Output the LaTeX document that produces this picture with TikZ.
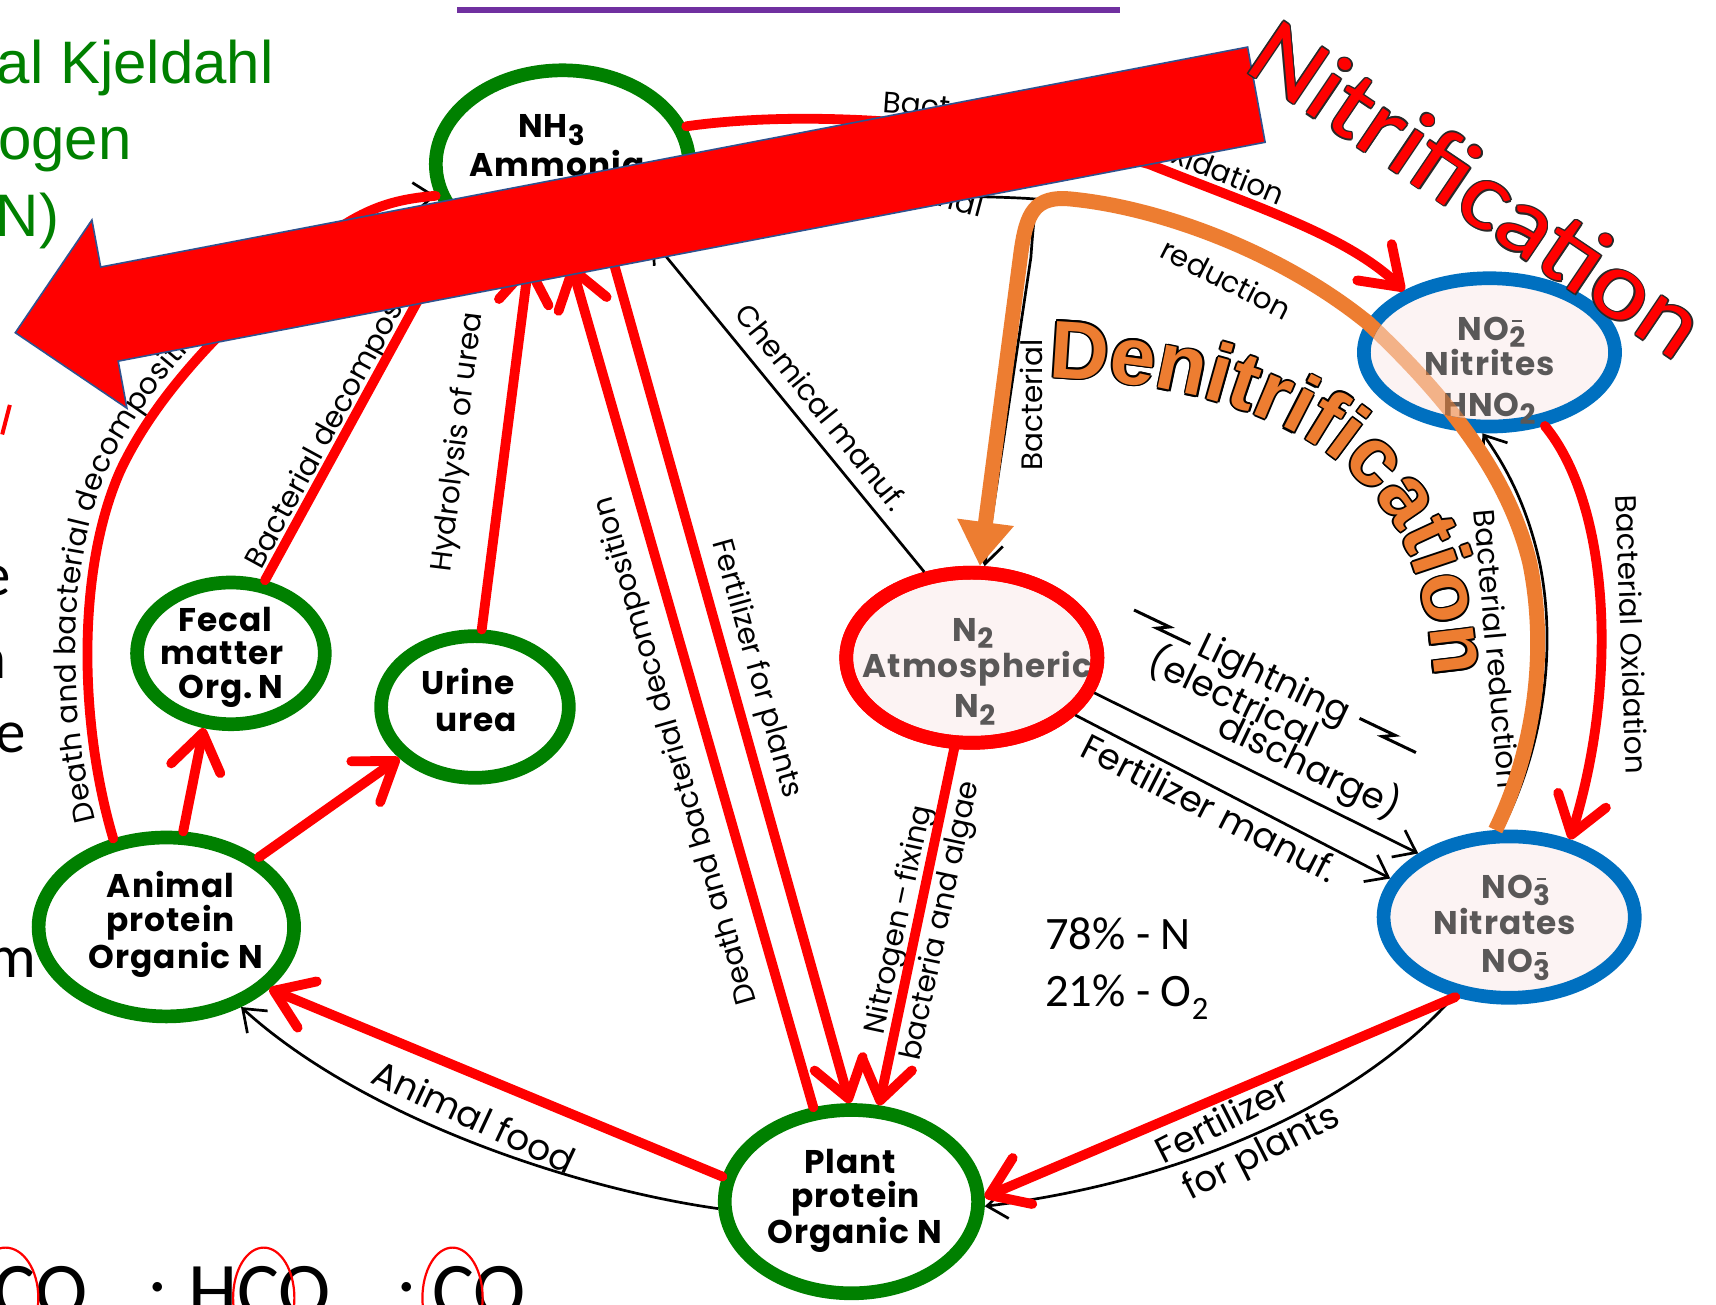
\documentclass[tikz,border=0pt]{standalone}
\usepackage{fontspec}
\setmainfont{Poppins}
\newfontfamily\nodefont[LetterSpace=3]{Poppins}
\newfontfamily\calibri{Carlito}
\newfontfamily\arialf{Liberation Sans}
\usetikzlibrary{shapes.geometric, arrows.meta, decorations.text}
\definecolor{ringgreen}{RGB}{0,128,0}
\definecolor{ringblue}{RGB}{0,112,192}
\definecolor{pinkfill}{RGB}{252,243,243}
\definecolor{txtgray}{RGB}{90,88,88}
\definecolor{orng}{RGB}{237,125,49}
\definecolor{arrowblue}{RGB}{47,82,143}
\definecolor{purp}{RGB}{112,48,160}
\definecolor{tkngreen}{RGB}{0,128,0}
\definecolor{nitout}{RGB}{40,40,40}
\newcommand\fsz[2]{\fontsize{#1pt}{#2pt}\selectfont}
\newcommand\lblf{\fsz{29.5}{32}}
\newcommand\denf{\arialf\bfseries\fsz{82}{90}}
\newcommand\nitf{\calibri\fsz{109}{120}}
\newcommand\lo[1]{\raisebox{-0.22em}{\scalebox{0.85}{#1}}}
\newcommand\ionlo[1]{\raisebox{-0.22em}{\ooalign{\scalebox{0.85}{#1}\cr\hidewidth\raisebox{0.78em}{\rule{0.3em}{0.07em}}\hidewidth\cr}}}
\tikzset{
 ring/.style={ellipse, line width=13.7pt, inner sep=0pt, fill=white},
 ntxt/.style={font=\nodefont\bfseries\fsz{32.8}{36}, anchor=base, inner sep=0pt},
 gtxt/.style={ntxt, text=txtgray},
 lbl/.style={font=\lblf, anchor=base, inner sep=0pt},
 lblbig/.style={font=\fsz{36}{39}, anchor=base, inner sep=0pt},
 bk/.style={draw=black, line width=2.7pt},
 bkarrow/.style={bk, -{Straight Barb[length=20pt, width=30pt]}},
 rdline/.style={draw=red, line width=9.8pt, line cap=round},
 rdarrow/.style={rdline, -{Straight Barb[length=36pt, width=50pt, round]}},
 orangeline/.style={draw=orng, line width=15pt, -{Triangle[length=44pt, width=54pt]}},
 tkn/.style={font=\arialf\fsz{60}{66}, text=tkngreen, inner sep=0pt, anchor=base west},
 frag/.style={font=\calibri\fsz{61}{66}, inner sep=0pt, anchor=base east},
 pct/.style={font=\calibri\fsz{46.5}{50}, inner sep=0pt, anchor=base west},
 frm/.style={font=\calibri\fsz{78.8}{85}, inner sep=0pt, anchor=base west},
}
\begin{document}
\begin{tikzpicture}[x=1.0944pt, y=-1.0944pt]
\useasboundingbox (0,0) rectangle (1568,1192);
\clip (0,0) rectangle (1568,1192);
\fill[white] (0,0) rectangle (1568,1192);

% ---------- nodes ----------
\node[ring, draw=ringgreen, minimum width=253.4pt, minimum height=187.7pt] (nh3) at (514,150) {};
\node[ring, draw=ringgreen, minimum width=187.7pt, minimum height=141.7pt] (fecal) at (211,597) {};
\node[ring, draw=ringgreen, minimum width=187.7pt, minimum height=141.7pt] (urine) at (434,646) {};
\node[ring, draw=ringgreen, minimum width=255.5pt, minimum height=178.9pt] (animal) at (152,847) {};
\node[ring, draw=ringgreen, minimum width=253.4pt, minimum height=183.3pt] (plant) at (778,1098) {};
\node[ring, draw=red, fill=pinkfill, minimum width=251.2pt, minimum height=170.2pt] (ntwo) at (888,601) {};
\node[ring, draw=ringblue, fill=pinkfill, minimum width=251.2pt, minimum height=148.3pt] (nitrite) at (1361,322) {};
\node[ring, draw=ringblue, fill=pinkfill, minimum width=251.2pt, minimum height=161.4pt] (nitrate) at (1379,838) {};

\node[ntxt] (nh3a) at (504,126) {NH\lo{3}};
\node[ntxt] (nh3b) at (509,161) {Ammonia};
\node[ntxt] (feca) at (206,577) {Fecal};
\node[ntxt] (fecb) at (203,607) {matter};
\node[ntxt] (fecc) at (211,638) {Org.\,N};
\node[ntxt] (urna) at (428,635) {Urine};
\node[ntxt] (urnb) at (435,668) {urea};
\node[ntxt] (ania) at (156,820) {Animal};
\node[ntxt] (anib) at (156,851) {protein};
\node[ntxt] (anic) at (161,885) {Organic N};
\node[ntxt] (plta) at (777,1072) {Plant};
\node[ntxt] (pltb) at (782,1103) {protein};
\node[ntxt] (pltc) at (781,1136) {Organic N};
\node[gtxt] (n2a) at (889,586) {N\lo{2}};
\node[gtxt] (n2b) at (893,619) {Atmospheric};
\node[gtxt] (n2c) at (891,656) {N\lo{2}};
\draw[red, line width=13.7pt] (ntwo.center) ellipse [x radius=114.75, y radius=77.75];
\node[gtxt] (no2a) at (1363,311) {NO\ionlo{2}};
\node[gtxt] (no2b) at (1361,343) {Nitrites};
\node[gtxt] (no2c) at (1361,381) {HNO\lo{2}};
\node[gtxt] (no3a) at (1385,821) {NO\ionlo{3}};
\node[gtxt] (no3b) at (1375,854) {Nitrates};
\node[gtxt] (no3c) at (1385,889) {NO\ionlo{3}};

% ---------- black connectors ----------
\coordinate (jn) at (948,182);
\draw[bkarrow] (animal.121) .. controls (72,660) and (70,520) .. (110,430) .. controls (150,345) and (230,275) .. (300,215) .. controls (335,190) and (360,182) .. (nh3.194);
\draw[bkarrow] (fecal.65) -- (nh3.211);
\draw[bkarrow] (urine.85) -- (nh3.251);
\draw[bkarrow] (plant.112) -- (nh3.275);
\draw[bkarrow] (nh3.298) -- (plant.91);
\draw[bkarrow] (ntwo.259) -- (plant.74);
\draw[bkarrow] (ntwo.119) -- (nh3.320);
\draw[bkarrow] (ntwo.-16) -- (nitrate.145);
\draw[bkarrow] (ntwo.-29) -- (nitrate.162);
\draw[bkarrow] (nitrate.235) .. controls (1240,1010) and (1080,1080) .. (plant.-2);
\draw[bkarrow] (plant.183) .. controls (520,1085) and (330,1020) .. (animal.-47);
\draw[bkarrow] (animal.80) -- (fecal.250);
\draw[bkarrow] (animal.37) -- (urine.214);
\draw[bkarrow] (nh3.17) .. controls (750,98) and (920,115) .. (1050,150) .. controls (1150,190) and (1230,215) .. (nitrite.144);
\draw[bkarrow] (nitrite.-53) .. controls (1470,460) and (1480,620) .. (nitrate.52);
\draw[bkarrow] (nitrate.95) .. controls (1412,680) and (1422,590) .. (1407,515) .. controls (1395,460) and (1375,425) .. (nitrite.-95);
\draw[bkarrow] (nitrite.165) .. controls (1170,232) and (1060,192) .. (jn) .. controls (900,178) and (800,180) .. (nh3.-12);
\draw[bkarrow] (jn) .. controls (946,190) and (944,205) .. (942,235) -- (ntwo.82);

% lightning bolts
\begin{scope}[shift={(1062,573)}, rotate=-25.5]
\draw[line width=3pt, line join=miter] (-30,-3) -- (6,-3) -- (-4,3) -- (30,3);
\end{scope}
\begin{scope}[shift={(1268,672)}, rotate=-25.5]
\draw[line width=3pt, line join=miter] (-30,-3) -- (6,-3) -- (-4,3) -- (30,3);
\end{scope}

% ---------- labels ----------
\path[decorate, decoration={text along path, text={|\lblf|Death and bacterial decomposition}, text align={left indent=22pt}, raise=12pt}] (animal.121) .. controls (72,660) and (70,520) .. (110,430) .. controls (150,345) and (230,275) .. (300,215) .. controls (335,190) and (360,182) .. (nh3.194);
\path[decorate, decoration={text along path, text={|\lblf|Bacterial}, text align={left indent=196pt}, raise=9pt}] (nh3.17) .. controls (750,98) and (920,115) .. (1050,150) .. controls (1150,190) and (1230,215) .. (nitrite.144);
\path[decorate, decoration={text along path, text={|\lblf|oxidation}, text align={right, right indent=150pt}, raise=9pt}] (nh3.17) .. controls (750,98) and (920,115) .. (1050,150) .. controls (1150,190) and (1230,215) .. (nitrite.144);
\node[lbl, rotate=61.4, anchor=base west] (lbfec) at (239,521) {Bacterial decomposition};
\node[lbl, rotate=83] (lbhyd) at (426,405) {Hydrolysis of urea};
\node[lbl, rotate=106] (lbdth) at (625,684) {Death and bacterial decomposition};
\node[lbl, rotate=-74.4] (lbfpl) at (684,613) {Fertilizer for plants};
\node[lbl, rotate=78] (lbnf1) at (829,842) {Nitrogen\,–\,fixing};
\node[lbl, rotate=78] (lbnf2) at (867,843) {bacteria and algae};
\node[lbl, rotate=-51.3] (lbchem) at (743,378) {Chemical manuf.};
\node[lbl, rotate=-15] (lbbr1) at (838,183) {Bacterial};
\node[lbl, rotate=-27] (lbbr2) at (1116,264) {reduction};
\node[lbl, rotate=90] (lbbr3) at (953,370) {Bacterial};
\node[lbl, rotate=-85] (lbbr4) at (1358,594) {Bacterial reduction};
\node[lbl, rotate=-88] (lbbo) at (1481,580) {Bacterial Oxidation};
\node[lblbig, rotate=-25.5] (lbli1) at (1160,630) {Lightning};
\node[lblbig, rotate=-25.5] (lbli2) at (1122,648) {(electrical};
\node[lblbig, rotate=-25.5] (lbli3) at (1192,710) {discharge)};
\node[lblbig, rotate=-27] (lbfm) at (1100,749) {Fertilizer manuf.};
\node[lblbig, rotate=27] (lbfp1) at (1122,1034) {Fertilizer};
\node[lblbig, rotate=27] (lbfp2) at (1157,1062) {for plants};
\node[lblbig, rotate=-25] (lbaf) at (428,1031) {Animal food};

% ---------- red overlays ----------
\draw[rdline] (animal.121) .. controls (72,660) and (70,520) .. (110,430) .. controls (150,345) and (230,275) .. (300,215) .. controls (335,190) and (360,182) .. (nh3.194);
\draw[rdarrow] (fecal.65) -- (nh3.211);
\draw[rdarrow] (urine.85) -- (nh3.251);
\draw[rdarrow] (plant.112) -- (nh3.275);
\draw[rdarrow] (nh3.298) -- (plant.91);
\draw[rdarrow] (ntwo.259) -- (plant.74);
\draw[rdarrow] (nh3.17) .. controls (750,98) and (920,115) .. (1050,150) .. controls (1150,190) and (1230,215) .. (nitrite.144);
\draw[rdarrow] (nitrite.-53) .. controls (1470,460) and (1480,620) .. (nitrate.52);
\draw[rdarrow] (nitrate.236) -- (plant.2);
\draw[rdarrow] (plant.169) -- (animal.-31);
\draw[rdarrow] (animal.80) -- (fecal.250);
\draw[rdarrow] (animal.37) -- (urine.214);

% ---------- orange denitrification path ----------
\begin{scope}[even odd rule]
\clip (0,0) rectangle (1568,1192) (nitrite.center) ellipse [x radius=108.5, y radius=61.5];
\draw[orangeline] (nitrate.99) .. controls (1400,690) and (1415,600) .. (1398,515) .. controls (1380,440) and (1330,370) .. (1250,295) .. controls (1170,230) and (1060,190) .. (980,182) .. controls (945,178) and (938,195) .. (933,230) -- (ntwo.85);
\end{scope}
\begin{scope}
\clip (nitrite.center) ellipse [x radius=108.5, y radius=61.5];
\draw[orangeline, opacity=0.55] (nitrate.99) .. controls (1400,690) and (1415,600) .. (1398,515) .. controls (1380,440) and (1330,370) .. (1250,295) .. controls (1170,230) and (1060,190) .. (980,182) .. controls (945,178) and (938,195) .. (933,230) -- (ntwo.85);
\end{scope}

% Denitrification text
\foreach \a in {0,45,...,315}{
\path[decorate, decoration={text along path, text={|\denf|Denitrification}, text color=black}, shift={(\a:1.8pt)}] (958,345) .. controls (1120,350) and (1240,400) .. (1285,500) .. controls (1305,550) and (1313,600) .. (1314,700);
}
\path[decorate, decoration={text along path, text={|\denf|Denitrification}, text color=orng}] (958,345) .. controls (1120,350) and (1240,400) .. (1285,500) .. controls (1305,550) and (1313,600) .. (1314,700);

% ---------- big block arrow ----------
\draw[draw=arrowblue, line width=1.6pt, fill=red, line join=miter] (14,304) -- (84,201) -- (92,244) -- (1140,43) -- (1156,130) -- (108,330) -- (116,373) -- cycle;

% Nitrification
\foreach \a in {0,45,...,315}{
\node[rotate=-34, text=nitout, font=\nitf, inner sep=0pt, shift={(\a:1.5pt)}] (nitro\a) at (1351,172) {\scalebox{1}[0.9]{Nitrification}};
}
\node[rotate=-34, text=red, font=\nitf, inner sep=0pt] (nitr) at (1351,172) {\scalebox{1}[0.9]{Nitrification}};

% ---------- slide text fragments ----------
\draw[purp, line width=6.6pt] (418,9) -- (1023,9);
\node[tkn] (tkn1) at (-3,76) {al Kjeldahl};
\node[tkn] (tkn2) at (-2,146) {ogen};
\node[tkn] (tkn3) at (-4,216) {N)};
\draw[red, line width=4pt] (9,370) -- (2,397);
\node[frag] (fr1) at (10,544) {e};
\node[frag] (fr2) at (6,620) {n};
\node[frag] (fr3) at (24,688) {e};
\node[frag] (fr4) at (33,893) {m};
\node[pct] (pc1) at (955,868) {78\% - N};
\node[pct] (pc2) at (955,920) {21\% - O\textsubscript{2}};
\node[frm] (fm1) at (-6,1204) {CO};
\node[frm, anchor=base] (fm2) at (144.5,1204) {:};
\node[frm] (fm3) at (172,1204) {HCO};
\node[frm, anchor=base] (fm4) at (372,1204) {:};
\node[frm] (fm5) at (395,1204) {CO};
\draw[red, line width=2.2pt] (5,1186) ellipse [x radius=30, y radius=46];
\draw[red, line width=2.2pt] (241,1186) ellipse [x radius=28, y radius=46];
\draw[red, line width=2.2pt] (413.5,1186) ellipse [x radius=27.5, y radius=46];
\end{tikzpicture}
\end{document}
